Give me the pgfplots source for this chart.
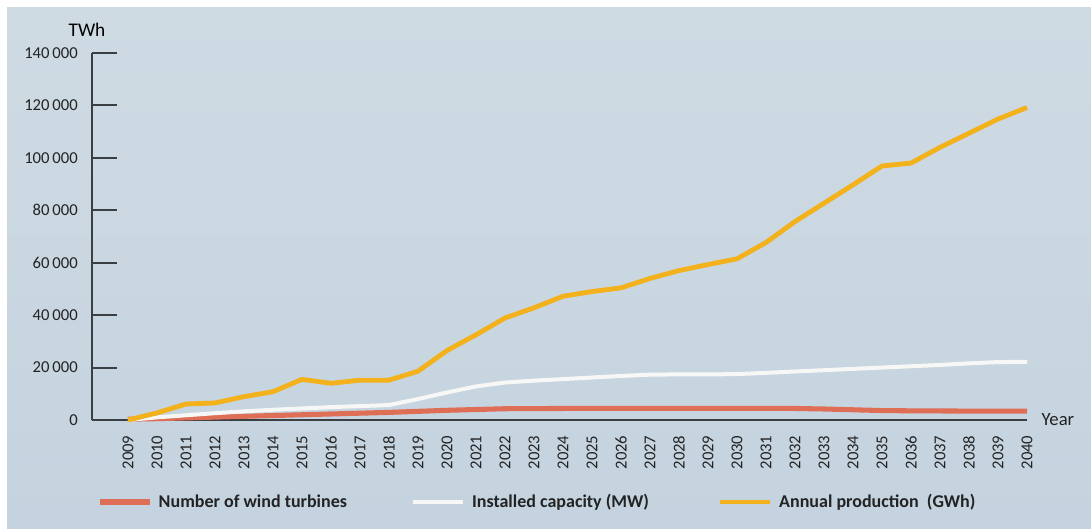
\documentclass[border=0pt]{standalone}
\usepackage{pgfplots}
\pgfplotsset{compat=1.18}
\usepackage{fontspec}
\setmainfont{Carlito}

\definecolor{bgtop}{RGB}{207,219,227}
\definecolor{bgbot}{RGB}{196,211,223}
\definecolor{axisgray}{RGB}{58,63,68}
\definecolor{labelgray}{RGB}{35,35,35}
\definecolor{turbines}{RGB}{222,110,85}
\definecolor{capacity}{RGB}{247,247,245}
\definecolor{production}{RGB}{243,177,28}

\begin{document}
\begin{tikzpicture}
% page background
\useasboundingbox (0,0) rectangle (818.25pt,396pt);
\fill[white] (0,0) rectangle (818.25pt,396pt);
\shade[top color=bgtop, bottom color=bgbot] (5.25pt,0) rectangle (818.25pt,390pt);

\begin{axis}[
  at={(69pt,81pt)}, anchor=south west,
  scale only axis,
  width=701.25pt, height=275.25pt,
  xmin=2007.76, xmax=2040,
  ymin=0, ymax=140000,
  axis x line=bottom, axis y line=left,
  axis line style={-, line width=1.5pt, color=axisgray},
  xtick={2009,2010,2011,2012,2013,2014,2015,2016,2017,2018,2019,2020,2021,2022,2023,2024,
         2025,2026,2027,2028,2029,2030,2031,2032,2033,2034,2035,2036,2037,2038,2039,2040},
  xticklabels={2009,2010,2011,2012,2013,2014,2015,2016,2017,2018,2019,2020,2021,2022,2023,2024,
         2025,2026,2027,2028,2029,2030,2031,2032,2033,2034,2035,2036,2037,2038,2039,2040},
  xtick style={draw=none},
  ytick={0,20000,40000,60000,80000,100000,120000,140000},
  yticklabels={0,20\,000,40\,000,60\,000,80\,000,100\,000,120\,000,140\,000},
  ytick style={line width=1.5pt, color=axisgray},
  tick align=inside,
  major tick length=18.75pt,
  xticklabel style={rotate=90, anchor=east, inner sep=0pt,
    font=\fontsize{12.5}{14}\selectfont, text=labelgray},
  xticklabel shift=11.5pt,
  yticklabel style={anchor=east, inner sep=0pt,
    font=\fontsize{12.5}{14}\selectfont, text=labelgray},
  yticklabel shift=10.5pt,
  scaled y ticks=false,
  xlabel={Year}, ylabel={TWh},
  every axis x label/.style={at={(axis description cs:1,0)}, anchor=west,
    xshift=7.5pt, font=\fontsize{14}{16}\selectfont, text=labelgray},
  every axis y label/.style={at={(axis description cs:0,1)}, anchor=base,
    yshift=12pt, xshift=-3.75pt, font=\fontsize{14.5}{16}\selectfont, text=black},
  clip=false,
  legend columns=3,
  legend cell align=left,
  legend image code/.code={\draw[#1] (0pt,0pt) -- (37.5pt,0pt);},
  legend style={at={(axis description cs:0.00535,-0.2234)}, anchor=west,
    draw=none, fill=none, inner sep=0pt, outer sep=0pt,
    cells={inner sep=0pt},
    font=\bfseries\fontsize{13.5}{15}\selectfont, text=labelgray,
    /tikz/every odd column/.append style={column sep=3pt}},
]

% Number of wind turbines
\addplot[turbines, line width=3.8pt, line join=round] coordinates {
 (2009,300) (2010,500) (2011,800) (2012,1100) (2013,1400) (2014,1700)
 (2015,2000) (2016,2300) (2017,2600) (2018,2900) (2019,3300) (2020,3700)
 (2021,4000) (2022,4300) (2023,4350) (2024,4400) (2025,4400) (2026,4400)
 (2027,4400) (2028,4400) (2029,4400) (2030,4400) (2031,4450) (2032,4400)
 (2033,4200) (2034,3900) (2035,3600) (2036,3500) (2037,3450) (2038,3400)
 (2039,3400) (2040,3400)
};
\addlegendentry{\makebox[187.5pt][l]{Number of wind turbines}}

% Installed capacity (MW)
\addplot[capacity, line width=3pt, line join=round] coordinates {
 (2009,0) (2010,1000) (2011,1800) (2012,2600) (2013,3300) (2014,3900)
 (2015,4400) (2016,4900) (2017,5300) (2018,5700) (2019,8000) (2020,10500)
 (2021,12800) (2022,14300) (2023,15000) (2024,15600) (2025,16200) (2026,16800)
 (2027,17300) (2028,17400) (2029,17400) (2030,17500) (2031,18000) (2032,18500)
 (2033,19000) (2034,19500) (2035,20000) (2036,20500) (2037,21000) (2038,21600)
 (2039,22100) (2040,22200)
};
\addlegendentry{\makebox[182.25pt][l]{Installed capacity (MW)}}

% Annual production (GWh)
\addplot[production, line width=3.6pt, line join=round] coordinates {
 (2009,0) (2010,2700) (2011,6100) (2012,6500) (2013,8900) (2014,10800)
 (2015,15500) (2016,14000) (2017,15200) (2018,15200) (2019,18600) (2020,26500)
 (2021,32500) (2022,38900) (2023,42800) (2024,47200) (2025,49000) (2026,50400)
 (2027,54000) (2028,57000) (2029,59300) (2030,61500) (2031,67700) (2032,75700)
 (2033,82700) (2034,89700) (2035,96900) (2036,98000) (2037,104000) (2038,109400)
 (2039,114800) (2040,119200)
};
\addlegendentry{Annual production\ \ (GWh)}

\end{axis}
\end{tikzpicture}
\end{document}
